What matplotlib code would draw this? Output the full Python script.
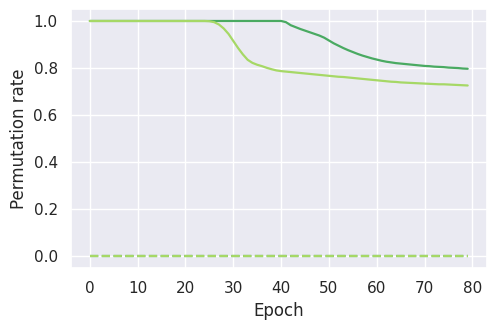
import matplotlib
matplotlib.use("Agg")
import matplotlib.pyplot as plt
import seaborn as sns
import numpy as np

sns.set_theme(style="darkgrid")

epochs = list(range(80))

rate_dark = [1.0] * 41 + [
    0.995, 0.982, 0.974, 0.966, 0.959, 0.952, 0.945, 0.938, 0.929, 0.917,
    0.905, 0.895, 0.885, 0.876, 0.868, 0.860, 0.853, 0.847, 0.841, 0.836,
    0.831, 0.827, 0.824, 0.821, 0.819, 0.817, 0.815, 0.813, 0.811, 0.809,
    0.808, 0.806, 0.805, 0.804, 0.802, 0.801, 0.800, 0.798, 0.797]

rate_light = [1.0] * 25 + [
    0.999, 0.995, 0.985, 0.968, 0.945, 0.915, 0.885, 0.858, 0.835, 0.822,
    0.814, 0.808, 0.801, 0.795, 0.790, 0.787, 0.785, 0.783, 0.781, 0.779,
    0.777, 0.775, 0.773, 0.771, 0.769, 0.767, 0.765, 0.763, 0.762, 0.760,
    0.758, 0.756, 0.754, 0.752, 0.750, 0.748, 0.746, 0.744, 0.742, 0.741,
    0.739, 0.738, 0.737, 0.736, 0.735, 0.734, 0.733, 0.732, 0.731, 0.731,
    0.730, 0.729, 0.728, 0.727, 0.726]

baseline_dark = [0.0] * 80
baseline_light = [0.0] * 80

fig, ax = plt.subplots(figsize=(4.96, 3.29), dpi=100)
ax.plot(epochs, rate_dark, color="#4aaa62", lw=1.6)
ax.plot(epochs, rate_light, color="#a6d866", lw=1.6)
ax.plot(epochs, baseline_dark, color="#4aaa62", lw=1.6, ls="--")
ax.plot(epochs, baseline_light, color="#a6d866", lw=1.6, ls="--")
ax.set_xlabel("Epoch")
ax.set_ylabel("Permutation rate")
ax.set_xticks(range(0, 81, 10))
fig.subplots_adjust(left=0.143, right=0.981, top=0.972, bottom=0.185)
fig.savefig("out.png", dpi=100)
